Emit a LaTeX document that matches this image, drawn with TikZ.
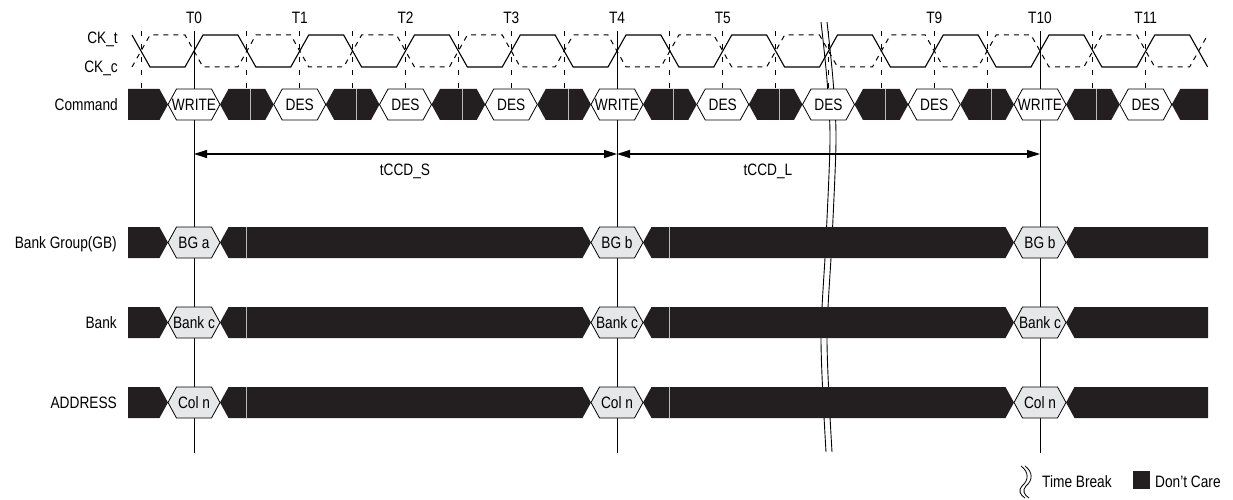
\documentclass[tikz,border=0pt]{standalone}
\usepackage{fontspec}
\setmainfont{Liberation Sans}[FakeStretch=0.83]
\usetikzlibrary{arrows.meta}
\definecolor{dc}{HTML}{231F20}
\definecolor{cellgray}{HTML}{E6E7E8}
\newcommand{\hexcell}[5]{%
  \filldraw[cellline,fill=#3] ({#1-26},#2) -- ({#1-17.5},{#2-15.5}) -- ({#1+17.5},{#2-15.5}) -- ({#1+26},#2) -- ({#1+17.5},{#2+15.5}) -- ({#1-17.5},{#2+15.5}) -- cycle;
  \node[lbl] (#5) at (#1,#2) {#4};}
\newcommand{\blackseg}[3]{%
  \fill[dc] ({#1+26},#3) -- ({#1+34.5},{#3-15.5}) -- ({#2-34.5},{#3-15.5}) -- ({#2-26},#3) -- ({#2-34.5},{#3+15.5}) -- ({#1+34.5},{#3+15.5}) -- cycle;}
\newcommand{\blackstart}[2]{%
  \fill[dc] (128,{#2-15.5}) -- ({#1-34.5},{#2-15.5}) -- ({#1-26},#2) -- ({#1-34.5},{#2+15.5}) -- (128,{#2+15.5}) -- cycle;}
\newcommand{\blackend}[2]{%
  \fill[dc] ({#1+26},#2) -- ({#1+34.5},{#2-15.5}) -- (1208,{#2-15.5}) -- (1208,{#2+15.5}) -- ({#1+34.5},{#2+15.5}) -- cycle;}
\begin{document}
\begin{tikzpicture}[x=1pt,y=-1pt,font=\fontsize{16.5}{19}\selectfont,
  lbl/.style={inner sep=0pt,text height=11.8pt,text depth=0pt},
  rlbl/.style={lbl,anchor=east},
  wave/.style={line width=1.1pt,line join=miter},
  cellline/.style={draw=black,line width=0.8pt},
  vdash/.style={line width=0.9pt,dash pattern=on 5pt off 8pt},
  vsolid/.style={line width=1pt},
  thin/.style={draw=gray!55,line width=0.9pt},
  arr/.style={line width=1.2pt,{Triangle[length=13pt,width=8pt]}-{Triangle[length=13pt,width=8pt]}}]
\useasboundingbox (0,0) rectangle (1233,500);

% ---- time labels
\foreach \k/\t in {0/T0,1/T1,2/T2,3/T3,4/T4,5/T5,7/T9,8/T10,9/T11}{
  \pgfmathsetmacro\tx{194+105.75*\k}
  \node[lbl] (lab\t) at (\tx,17.5) {\t};}

% ---- signal names
\node[rlbl] (nckt) at (118,37.5) {CK\_t};
\node[rlbl] (nckc) at (118,67) {CK\_c};
\node[rlbl] (ncmd) at (118,104.5) {Command};
\node[rlbl] (nbg) at (117,242.5) {Bank Group(GB)};
\node[rlbl] (nbank) at (117,322.5) {Bank};
\node[rlbl] (naddr) at (117,402.5) {ADDRESS};

% ---- solid reference lines
\foreach \k/\n in {0/a,4/b,8/c}{
  \pgfmathsetmacro\tx{194+105.75*\k}
  \coordinate (top\n) at (\tx,31);
  \coordinate (bot\n) at (\tx,453);
  \draw[vsolid] (top\n) -- (bot\n);}

% ---- time break lines
\draw[line width=0.9pt] plot[smooth] coordinates {(821,22) (827,80) (830,140) (826,240) (821,340) (826,452)};
\draw[line width=0.9pt] plot[smooth] coordinates {(827,22) (833,80) (836,140) (832,240) (827,340) (832,452)};

% ---- command row
\blackstart{194}{104.5}
\foreach \k in {0,...,8}{
  \pgfmathsetmacro\xa{194+105.75*\k}
  \pgfmathsetmacro\xb{194+105.75*(\k+1)}
  \blackseg{\xa}{\xb}{104.5}
  \pgfmathsetmacro\hx{\xa+52.875+4}
  \draw[thin] (\hx,89) -- (\hx,120);}
\blackend{1145.75}{104.5}
\foreach \k/\c in {0/WRITE,1/DES,2/DES,3/DES,4/WRITE,5/DES,6/DES,7/DES,8/WRITE,9/DES}{
  \pgfmathsetmacro\tx{194+105.75*\k}
  \hexcell{\tx}{104.5}{white}{\c}{cmd\k}}

% ---- bus rows
\foreach \y/\r/\ta/\tb/\tc in {242.5/bg/BG a/BG b/BG b, 322.5/bk/Bank c/Bank c/Bank c, 402.5/ad/Col n/Col n/Col n}{
  \blackstart{194}{\y}
  \blackseg{194}{617}{\y}
  \blackseg{617}{1040}{\y}
  \blackend{1040}{\y}
  \draw[thin] (246.875,{\y-15.5}) -- (246.875,{\y+15.5});
  \draw[thin] (669.875,{\y-15.5}) -- (669.875,{\y+15.5});
  \hexcell{194}{\y}{cellgray}{\ta}{\r0}
  \hexcell{617}{\y}{cellgray}{\tb}{\r4}
  \hexcell{1040}{\y}{cellgray}{\tc}{\r10}}

% ---- dashed verticals
\foreach \k in {-1,...,8}{
  \pgfmathsetmacro\hx{194+105.75*\k+52.875}
  \draw[vdash] (\hx,31) -- (\hx,89);}
\foreach \k in {1,2,3,5,6,7,9}{
  \pgfmathsetmacro\tx{194+105.75*\k}
  \draw[vdash] (\tx,31) -- (\tx,89);}

% ---- clocks
\draw[wave] (132,35) -- (150,67) foreach \k in {0,...,9}{
  -- ({194+105.75*\k-9},67) -- ({194+105.75*\k+9},35)
  -- ({194+105.75*\k+52.875-9},35) -- ({194+105.75*\k+52.875+9},67)};
\draw[wave,line width=1pt,dash pattern=on 5pt off 5pt] (132,67) -- (150,35) foreach \k in {0,...,9}{
  -- ({194+105.75*\k-9},35) -- ({194+105.75*\k+9},67)
  -- ({194+105.75*\k+52.875-9},67) -- ({194+105.75*\k+52.875+9},35)};

% ---- tCCD arrows
\coordinate (s0) at (194,154);
\coordinate (s4) at (617,154);
\coordinate (s10) at (1040,154);
\draw[arr] (s0) -- (s4);
\draw[arr] (s4) -- (s10);
\node[lbl] (tccds) at (405,170) {tCCD\_S};
\node[lbl] (tccdl) at (768,170) {tCCD\_L};

% ---- legend
\draw[line width=0.8pt] (1021,466) .. controls (1029,472) and (1029,480) .. (1022,486) .. controls (1018,490) and (1020,495) .. (1025,498);
\draw[line width=0.8pt] (1025,466) .. controls (1033,472) and (1033,480) .. (1026,486) .. controls (1022,490) and (1024,495) .. (1029,498);
\node[lbl,anchor=west] (ltb) at (1042,482) {Time Break};
\fill[dc] (1133,471) rectangle (1150,489);
\coordinate (ldcbox) at (1141.5,480);
\node[lbl,anchor=west] (ldc) at (1155,482) {Don’t Care};
\end{tikzpicture}
\end{document}
